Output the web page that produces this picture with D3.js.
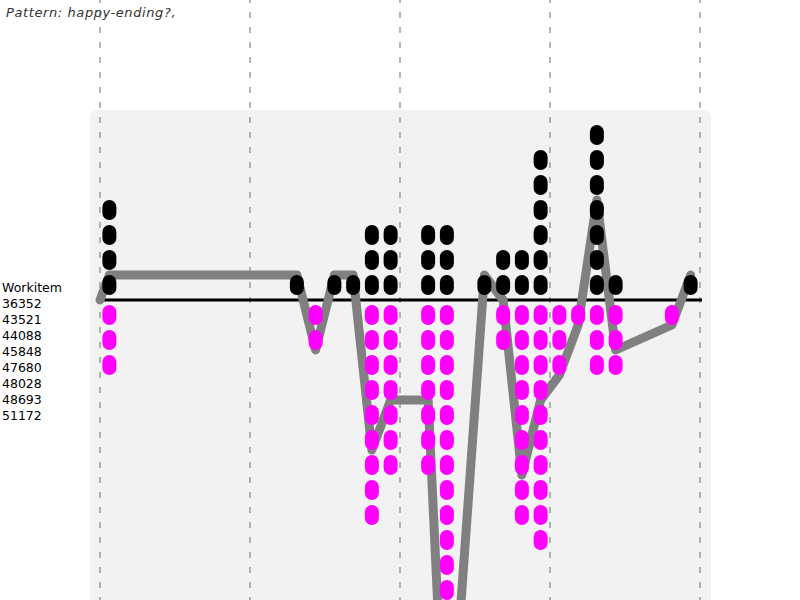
<!DOCTYPE html>
<html>
<head>
<meta charset="utf-8">
<script src="https://cdn.jsdelivr.net/npm/d3@7"></script>
<style>
  html, body { margin: 0; padding: 0; background: #fff; }
  svg { display: block; }
</style>
</head>
<body>
<svg id="chart" width="800" height="600"></svg>
<script>
// ---- data ----
const title = "Pattern: happy-ending?,";
const labelHeader = "Workitem";
const workitems = ["36352", "43521", "44088", "45848", "47680", "48028", "48693", "51172"];
// time slots (units) where activity happened
const slots = [0, 10, 11, 12, 13, 14, 15, 17, 18, 20, 21, 22, 23, 24, 25, 26, 27, 30, 31];
// count of black (above baseline) and magenta (below baseline) marks per slot
const aboveCounts = [4, 1, 0, 1, 1, 3, 3, 3, 3, 1, 2, 2, 6, 0, 0, 7, 1, 0, 1];
const belowCounts = [3, 0, 2, 0, 0, 9, 7, 7, 23, 0, 2, 9, 10, 3, 1, 3, 3, 1, 0];
const gridTicks = [0, 8, 16, 24, 32];

// ---- scales ----
const svg = d3.select("#chart");
const x = d3.scaleLinear().domain([0, 32]).range([100, 700]);
const y = d3.scaleLinear().domain([0, 1]).range([300, 275]);

// panel
svg.append("rect")
  .attr("x", 90).attr("y", 110).attr("width", 621).attr("height", 520)
  .attr("rx", 8).attr("ry", 8)
  .attr("fill", "#f2f2f2");

// dashed verticals
svg.selectAll("line.grid").data(gridTicks).enter().append("line")
  .attr("class", "grid")
  .attr("x1", d => x(d)).attr("x2", d => x(d))
  .attr("y1", 0).attr("y2", 600)
  .attr("stroke", "#6e6e6e").attr("stroke-width", 1)
  .attr("stroke-dasharray", "6,9")
  .attr("stroke-dashoffset", 3);

// title
svg.append("text")
  .attr("x", 6).attr("y", 17)
  .attr("font-family", "DejaVu Sans, sans-serif")
  .attr("font-size", 13).attr("font-style", "italic")
  .attr("letter-spacing", 0.6)
  .attr("fill", "#333")
  .text(title);

// labels
const labels = [labelHeader].concat(workitems);
svg.selectAll("text.lbl").data(labels).enter().append("text")
  .attr("class", "lbl")
  .attr("x", 2).attr("y", (d, i) => 292 + i * 16)
  .attr("font-family", "DejaVu Sans, sans-serif")
  .attr("font-size", 12.5)
  .attr("fill", "#000")
  .text(d => d);

// baseline
svg.append("line")
  .attr("x1", x(0)).attr("x2", x(32) + 2)
  .attr("y1", y(0)).attr("y2", y(0))
  .attr("stroke", "#000").attr("stroke-width", 3);

// net line
const netPts = [{t: 0, v: 0}].concat(slots.map((s, i) => ({t: s + 0.5, v: aboveCounts[i] - belowCounts[i]})));
svg.append("path")
  .datum(netPts)
  .attr("d", d3.line().x(d => x(d.t)).y(d => y(d.v)))
  .attr("fill", "none")
  .attr("stroke", "#808080").attr("stroke-width", 9)
  .attr("stroke-linejoin", "round").attr("stroke-linecap", "round");

// marks
const marks = [];
slots.forEach((s, i) => {
  for (let k = 1; k <= aboveCounts[i]; k++) marks.push({t: s + 0.5, top: y(k), c: "#000"});
  for (let k = 1; k <= belowCounts[i]; k++) marks.push({t: s + 0.5, top: y(-k) - 20, c: "#ff00ff"});
});
svg.selectAll("rect.mark").data(marks).enter().append("rect")
  .attr("class", "mark")
  .attr("x", d => x(d.t) - 7).attr("y", d => d.top)
  .attr("width", 14).attr("height", 20)
  .attr("rx", 7).attr("ry", 7)
  .attr("fill", d => d.c);
</script>
</body>
</html>
